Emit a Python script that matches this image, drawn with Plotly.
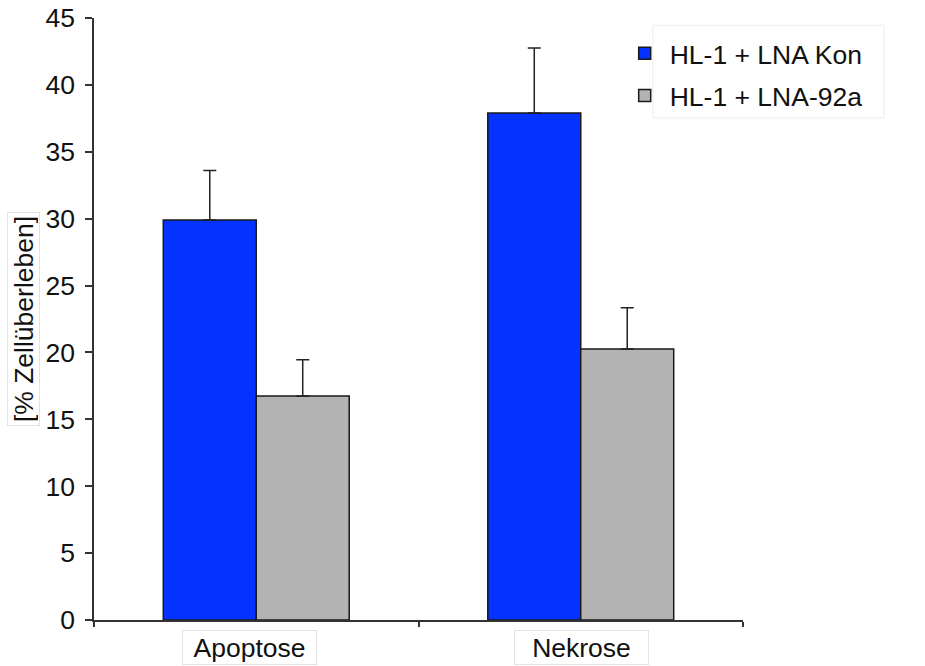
import plotly.graph_objects as go

categories = ["Apoptose", "Nekrose"]
series_names = ["HL-1 + LNA Kon", "HL-1 + LNA-92a"]
kon_values = [29.9, 37.9]
kon_errors = [3.7, 4.85]
lna92a_values = [16.75, 20.25]
lna92a_errors = [2.7, 3.1]
colors = ["#0433FF", "#B3B3B3"]
y_ticks = [0, 5, 10, 15, 20, 25, 30, 35, 40, 45]

FONT = "Liberation Sans, Arial, Helvetica, sans-serif"
FS = 26.5

fig = go.Figure()
for name, vals, errs, col, grp in [
    (series_names[0], kon_values, kon_errors, colors[0], "a"),
    (series_names[1], lna92a_values, lna92a_errors, colors[1], "b"),
]:
    fig.add_trace(go.Bar(
        name=name, x=categories, y=vals, legendgroup=grp,
        marker=dict(color=col, line=dict(color="#1a1a1a", width=1.5)),
        error_y=dict(type="data", array=errs, arrayminus=[0] * len(errs),
                     symmetric=False, color="#222222", thickness=1.5, width=6.5),
    ))

fig.update_layout(
    width=925, height=666,
    margin=dict(l=94, r=182, t=18, b=46, autoexpand=False),
    paper_bgcolor="white", plot_bgcolor="white",
    barmode="group", bargap=0.427, bargroupgap=0,
    font=dict(family=FONT, size=FS, color="#111111"),
    showlegend=True,
    legend=dict(x=0.81, y=0.981, xanchor="left", yanchor="top",
                bgcolor="rgba(255,255,255,0)", borderwidth=0,
                font=dict(size=FS), tracegroupgap=5, itemwidth=40,
                traceorder="grouped"),
    xaxis=dict(showline=True, linecolor="#333333", linewidth=1.5,
               ticks="outside", ticklen=5, tickcolor="#333333", tickwidth=1.5,
               tickson="boundaries", showticklabels=False, showgrid=False,
               zeroline=False, automargin=False),
    yaxis=dict(range=[0, 45], tickvals=y_ticks, showline=True,
               linecolor="#333333", linewidth=1.5, ticks="outside", ticklen=7,
               tickcolor="#333333", tickwidth=1.5, showgrid=False,
               zeroline=False, tickfont=dict(size=FS), ticklabelstandoff=5,
               automargin=False),
)

# faint frame around the legend texts
fig.add_shape(type="rect", xref="paper", yref="paper", x0=0.861, x1=1.217,
              y0=0.834, y1=0.988, line=dict(color="#ececec", width=1),
              fillcolor="rgba(0,0,0,0)", layer="below")

# category labels in light boxes
for cat, xs in zip(categories, [-7, 1]):
    fig.add_annotation(x=cat, xref="x", y=0, yref="paper", yanchor="middle",
                       yshift=-27.5, xshift=xs, text=cat, showarrow=False,
                       font=dict(size=FS), bgcolor="white",
                       bordercolor="#e2e2e2", borderwidth=1, borderpad=1,
                       width=131, height=31)

# y-axis title in a light box
fig.add_annotation(x=0, xref="paper", y=0.5, yref="paper", xanchor="center",
                   yanchor="middle", xshift=-71, text="[% Zellüberleben]",
                   textangle=-90, showarrow=False, font=dict(size=FS),
                   bgcolor="white", bordercolor="#e2e2e2", borderwidth=1,
                   borderpad=1, width=210, height=29)

fig.write_html("out.html")
